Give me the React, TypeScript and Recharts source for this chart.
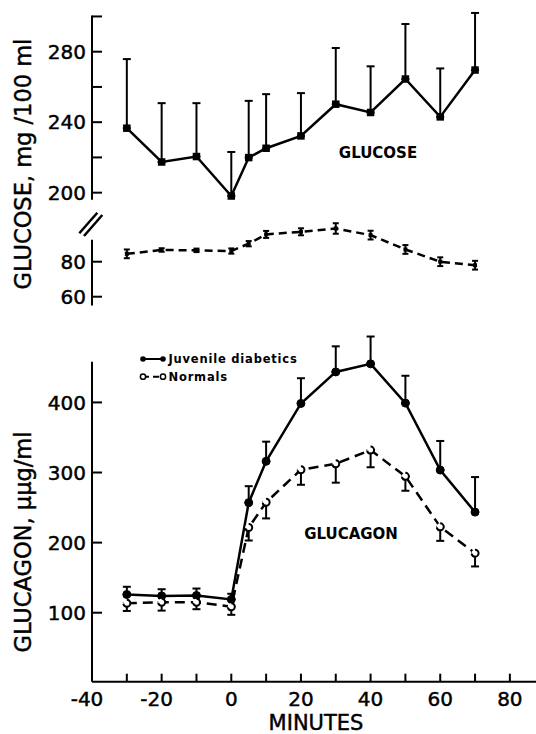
import React from 'react';
import { LineChart, Line, XAxis, YAxis, ErrorBar, ReferenceLine, Legend } from 'recharts';

const minutes = [-30, -20, -10, 0, 5, 10, 20, 30, 40, 50, 60, 70];

const glucoseDiabetic = [236.6, 217.4, 220.5, 198.1, 219.9, 225.2, 232.2, 250.2, 245.5, 264.5, 243.0, 269.6];
const glucoseDiabeticErr = [39.2, 33.4, 30.3, 25.0, 32.2, 30.7, 24.3, 31.9, 26.2, 31.2, 27.5, 32.4];

const glucoseNormal = [84.5, 86.7, 86.5, 86.1, 90.3, 95.6, 97.1, 99.0, 95.2, 87.0, 80.0, 78.0];
const glucoseNormalErr = [2.5, 1, 1, 1.5, 1.5, 2, 2, 3, 2.5, 2.5, 2.5, 2.5];

const glucagonDiabetic = [126, 124, 124.5, 119, 257, 316, 398.5, 443.5, 455, 399, 303.5, 243.5];
const glucagonDiabeticErr = [11, 9.5, 10, 8, 23.5, 28, 36, 36.5, 39, 39, 41.5, 50];

const glucagonNormal = [113.5, 115, 115, 108.5, 221.5, 257.5, 304, 312.5, 332, 294.5, 222.5, 185];
const glucagonNormalErr = [11, 12, 10, 11.5, 18.5, 23, 21.5, 27, 24.5, 20.5, 20, 19];

const xTicks = [-40, -30, -20, -10, 0, 10, 20, 30, 40, 50, 60, 70, 80];
const xTickLabels = [-40, -20, 0, 20, 40, 60, 80];
const glucoseHiTicks = [200, 220, 240, 260, 280, 300];
const glucoseHiLabels = [200, 240, 280];
const glucoseLoTicks = [60, 80];
const glucagonTicks = [100, 200, 300, 400];

const FONT = 'DejaVu Sans';
const THICK = { stroke: '#000', strokeWidth: 0.45 };

const glucoseHiData = minutes.map((m, i) => ({ m, v: glucoseDiabetic[i], e: [0, glucoseDiabeticErr[i]] }));
const glucoseLoData = minutes.map((m, i) => ({ m, v: glucoseNormal[i], e: glucoseNormalErr[i] }));
const glucagonData = minutes.map((m, i) => ({
  m,
  d: glucagonDiabetic[i],
  de: [0, glucagonDiabeticErr[i]],
  n: glucagonNormal[i],
  ne: [glucagonNormalErr[i], 0],
}));

const X_DOMAIN: [number, number] = [-40, 87.5];

const makeYTick = (labels: number[]) => (p: any) => {
  const { x, y, payload } = p;
  const v = payload.value;
  return (
    <g key={`yt-${v}`}>
      <line x1={x} x2={x + 10} y1={y} y2={y} stroke="#000" strokeWidth={2} />
      {labels.includes(v) && (
        <text x={x - 6} y={y} dy="0.36em" textAnchor="end" fontSize={20} fontFamily={FONT} fill="#000" {...THICK}>
          {String(v)}
        </text>
      )}
    </g>
  );
};

const renderXTick = (p: any) => {
  const { x, y, payload } = p;
  const v = payload.value;
  return (
    <g key={`xt-${v}`}>
      {v !== -40 && <line x1={x} x2={x} y1={y} y2={y - 8} stroke="#000" strokeWidth={2} />}
      {xTickLabels.includes(v) && (
        <text x={v < 0 ? x - 5 : x} y={y + 24} textAnchor="middle" fontSize={20} fontFamily={FONT} fill="#000" {...THICK}>
          {String(v)}
        </text>
      )}
    </g>
  );
};

const squareDot = (size: number) => (p: any) => {
  const { cx, cy, index } = p;
  return <rect key={`sq-${index}`} x={cx - size / 2} y={cy - size / 2} width={size} height={size} fill="#000" />;
};

const renderLegend = (props: any) => {
  const payload = props.payload || [];
  const names = payload.map((e: any) => e.value);
  return (
    <svg width={200} height={40}>
      <line x1={13} x2={33} y1={9} y2={9} stroke="#000" strokeWidth={2} />
      <circle cx={13} cy={9} r={2.8} fill="#000" />
      <circle cx={33} cy={9} r={2.8} fill="#000" />
      <text x={38.5} y={13.3} fontSize={11.5} fontWeight="bold" letterSpacing={0.8} fontFamily={FONT} fill="#000">
        {names[0] || 'Juvenile diabetics'}
      </text>
      <line x1={13} x2={33} y1={26.7} y2={26.7} stroke="#000" strokeWidth={2} strokeDasharray="6 4" />
      <circle cx={13} cy={26.7} r={2.6} fill="#fff" stroke="#000" strokeWidth={1.5} />
      <circle cx={33} cy={26.7} r={2.6} fill="#fff" stroke="#000" strokeWidth={1.5} />
      <text x={38.5} y={31} fontSize={11.5} fontWeight="bold" letterSpacing={0.8} fontFamily={FONT} fill="#000">
        {names[1] || 'Normals'}
      </text>
    </svg>
  );
};

export default function App() {
  return (
    <div style={{ position: 'absolute', left: 0, top: 0, width: 536, height: 734, background: '#fff', overflow: 'hidden' }}>
      {/* Upper glucose (juvenile diabetics) */}
      <div style={{ position: 'absolute', left: 0, top: 5 }}>
        <LineChart width={536} height={200} data={glucoseHiData} margin={{ top: 0, right: 0, bottom: 0, left: 0 }}>
          <XAxis type="number" dataKey="m" domain={X_DOMAIN} allowDataOverflow hide />
          <YAxis
            type="number"
            domain={[193, 306.5]}
            allowDataOverflow
            ticks={glucoseHiTicks}
            interval={0}
            width={92}
            axisLine={false}
            tickLine={false}
            tickSize={0}
            tickMargin={0}
            tick={makeYTick(glucoseHiLabels)}
          />
          <ReferenceLine segment={[{ x: -40, y: 196 }, { x: -40, y: 300.5 }]} stroke="#000" strokeWidth={2} ifOverflow="visible" />
          <Line dataKey="v" stroke="#000" strokeWidth={2.5} dot={squareDot(7.5)} isAnimationActive={false}>
            <ErrorBar dataKey="e" direction="y" width={4} stroke="#000" strokeWidth={2} />
          </Line>
        </LineChart>
      </div>

      {/* Lower glucose (normals) */}
      <div style={{ position: 'absolute', left: 0, top: 215 }}>
        <LineChart width={536} height={95} data={glucoseLoData} margin={{ top: 0, right: 0, bottom: 0, left: 0 }}>
          <XAxis type="number" dataKey="m" domain={X_DOMAIN} allowDataOverflow hide />
          <YAxis
            type="number"
            domain={[52.4, 106.7]}
            allowDataOverflow
            ticks={glucoseLoTicks}
            interval={0}
            width={92}
            axisLine={false}
            tickLine={false}
            tickSize={0}
            tickMargin={0}
            tick={makeYTick(glucoseLoTicks)}
          />
          <ReferenceLine segment={[{ x: -40, y: 55 }, { x: -40, y: 92.6 }]} stroke="#000" strokeWidth={2} ifOverflow="visible" />
          <Line dataKey="v" stroke="#000" strokeWidth={2.5} strokeDasharray="8 5" dot={squareDot(4)} isAnimationActive={false}>
            <ErrorBar dataKey="e" direction="y" width={3} stroke="#000" strokeWidth={2} />
          </Line>
        </LineChart>
      </div>

      {/* Glucagon */}
      <div style={{ position: 'absolute', left: 0, top: 330 }}>
        <LineChart width={536} height={403.7} data={glucagonData} margin={{ top: 0, right: 0, bottom: 0, left: 0 }}>
          <XAxis
            type="number"
            dataKey="m"
            domain={X_DOMAIN}
            allowDataOverflow
            ticks={xTicks}
            interval={0}
            height={52}
            axisLine={{ stroke: '#000', strokeWidth: 2 }}
            tickLine={false}
            tickSize={0}
            tickMargin={0}
            tick={renderXTick}
          />
          <YAxis
            type="number"
            domain={[1.6, 503.3]}
            allowDataOverflow
            ticks={glucagonTicks}
            interval={0}
            width={92}
            axisLine={false}
            tickLine={false}
            tickSize={0}
            tickMargin={0}
            tick={makeYTick(glucagonTicks)}
          />
          <ReferenceLine segment={[{ x: -40, y: 1.6 }, { x: -40, y: 458 }]} stroke="#000" strokeWidth={2} ifOverflow="visible" />
          <Legend
            content={renderLegend}
            layout="horizontal"
            verticalAlign="middle"
            align="center"
            wrapperStyle={{ left: 130, top: 20, width: 200, height: 40 }}
          />
          <Line name="Juvenile diabetics" dataKey="d" stroke="#000" strokeWidth={2.5} dot={{ r: 4, fill: '#000', stroke: '#000', strokeWidth: 1 }} isAnimationActive={false}>
            <ErrorBar dataKey="de" direction="y" width={4} stroke="#000" strokeWidth={2} />
          </Line>
          <Line name="Normals" dataKey="n" stroke="#000" strokeWidth={2.5} strokeDasharray="10 6" dot={{ r: 3.5, fill: '#fff', stroke: '#000', strokeWidth: 2 }} isAnimationActive={false}>
            <ErrorBar dataKey="ne" direction="y" width={4} stroke="#000" strokeWidth={2} />
          </Line>
        </LineChart>
      </div>

      {/* Overlay: axis titles, panel labels, axis break */}
      <svg width={536} height={734} style={{ position: 'absolute', left: 0, top: 0, pointerEvents: 'none' }}>
        <text transform="translate(30.5,164) rotate(-90)" textAnchor="middle" fontSize={22.5} fontFamily={FONT} fill="#000" {...THICK}>
          GLUCOSE, mg /100 ml
        </text>
        <text transform="translate(30.5,542) rotate(-90)" textAnchor="middle" fontSize={22.5} fontFamily={FONT} fill="#000" {...THICK}>
          GLUCAGON, μμg/ml
        </text>
        <text x={316} y={729.5} textAnchor="middle" fontSize={21} fontFamily={FONT} fill="#000" {...THICK}>
          MINUTES
        </text>
        <line x1={79.3} y1={233.3} x2={97.3} y2={212.7} stroke="#000" strokeWidth={2.5} />
        <line x1={84} y1={236} x2={102.3} y2={215} stroke="#000" strokeWidth={2.5} />
        <text x={378} y={153} dy="0.36em" textAnchor="middle" fontSize={15} fontWeight="bold" fontFamily={FONT} fill="#000">
          GLUCOSE
        </text>
        <text x={351} y={533.3} dy="0.36em" textAnchor="middle" fontSize={15} fontWeight="bold" fontFamily={FONT} fill="#000">
          GLUCAGON
        </text>
      </svg>
    </div>
  );
}
